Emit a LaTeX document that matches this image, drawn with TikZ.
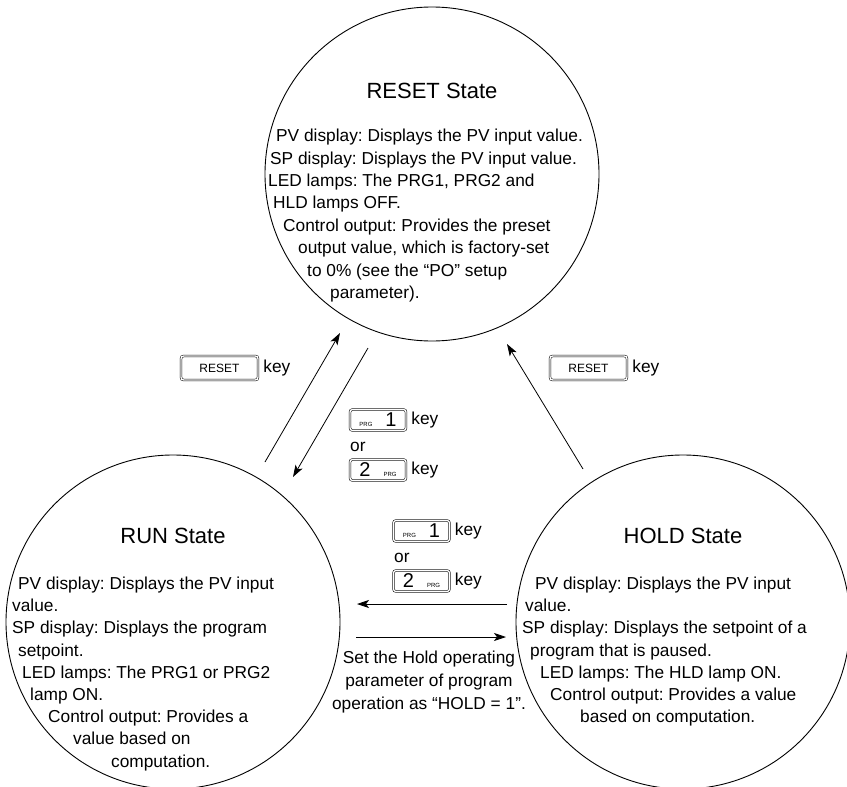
\documentclass[tikz,border=0pt]{standalone}
\usepackage{fontspec}
\setmainfont{Liberation Sans}
\usetikzlibrary{arrows.meta}
\frenchspacing
\begin{document}
\begin{tikzpicture}[x=1pt,y=-1pt,
  state/.style={draw,line width=0.9pt,circle,minimum size=334pt,inner sep=0pt},
  title/.style={font=\fontsize{22}{25}\selectfont},
  txt/.style={anchor=base west,inner sep=0pt,font=\fontsize{17.3}{20}\selectfont},
  ctxt/.style={anchor=base,inner sep=0pt,font=\fontsize{17.3}{20}\selectfont},
  keybox/.style={draw,double,double distance=1.4pt,line width=0.5pt,rounded corners=2.5pt,inner sep=0pt},
  arr/.style={-{Stealth[length=12pt,width=8pt,inset=3pt]},line width=0.8pt}]
\useasboundingbox (0,0) rectangle (847,787);
\node[state] (reset) at (432,174) {};
\node[state] (run) at (173,622) {};
\node[state] (hold) at (683,622) {};
% RESET text
\node[title,anchor=base] (rt) at (432,98) {RESET State};
\node[txt] (r1) at (276,141) {PV display: Displays the PV input value.};
\node[txt] (r2) at (270,164) {SP display: Displays the PV input value.};
\node[txt] (r3) at (268,186) {LED lamps: The PRG1, PRG2 and};
\node[txt] (r4) at (273,208) {HLD lamps OFF.};
\node[txt] (r5) at (283,231) {Control output: Provides the preset};
\node[txt] (r6) at (298,253) {output value, which is factory-set};
\node[txt] (r7) at (307,276) {to 0\% (see the “PO” setup};
\node[txt] (r8) at (330,298) {parameter).};
% RUN text
\node[title,anchor=base] (ut) at (173,543) {RUN State};
\node[txt] (u1) at (18,589) {PV display: Displays the PV input};
\node[txt] (u2) at (12,611) {value.};
\node[txt] (u3) at (12,633) {SP display: Displays the program};
\node[txt] (u4) at (18,656) {setpoint.};
\node[txt] (u5) at (22,678) {LED lamps: The PRG1 or PRG2};
\node[txt] (u6) at (30,700) {lamp ON.};
\node[txt] (u7) at (48,722) {Control output: Provides a};
\node[txt] (u8) at (73,744) {value based on};
\node[txt] (u9) at (111,767) {computation.};
% HOLD text
\node[title,anchor=base] (ht) at (683,543) {HOLD State};
\node[txt] (h1) at (535,589) {PV display: Displays the PV input};
\node[txt] (h2) at (525,611) {value.};
\node[txt] (h3) at (522,633) {SP display: Displays the setpoint of a};
\node[txt] (h4) at (530,656) {program that is paused.};
\node[txt] (h5) at (540,678) {LED lamps: The HLD lamp ON.};
\node[txt] (h6) at (550,700) {Control output: Provides a value};
\node[txt] (h7) at (580,722) {based on computation.};
% RESET keys
\node[keybox,minimum width=77pt,minimum height=24pt,font=\fontsize{12}{13}\selectfont] (k1) at (219.5,368) {RESET};
\node[txt,anchor=west] (k1t) at ([xshift=5pt]k1.east) {key};
\node[keybox,minimum width=77pt,minimum height=24pt,font=\fontsize{12}{13}\selectfont] (k2) at (588.5,368) {RESET};
\node[txt,anchor=west] (k2t) at ([xshift=5pt]k2.east) {key};
% middle upper
\node[keybox,minimum width=56pt,minimum height=21pt] (p1) at (378,420) {\fontsize{6}{7}\selectfont PRG\hspace{13pt}\fontsize{20}{21}\selectfont 1};
\node[txt,anchor=west] (p1t) at ([xshift=5pt]p1.east) {key};
\node[txt] (o1) at (350,451) {or};
\node[keybox,minimum width=56pt,minimum height=21pt] (p2) at (378,470) {\fontsize{20}{21}\selectfont 2\hspace{13pt}\fontsize{6}{7}\selectfont PRG};
\node[txt,anchor=west] (p2t) at ([xshift=5pt]p2.east) {key};
% middle lower
\node[keybox,minimum width=56pt,minimum height=21pt] (q1) at (421.5,531) {\fontsize{6}{7}\selectfont PRG\hspace{13pt}\fontsize{20}{21}\selectfont 1};
\node[txt,anchor=west] (q1t) at ([xshift=5pt]q1.east) {key};
\node[txt] (o2) at (394,562) {or};
\node[keybox,minimum width=56pt,minimum height=21pt] (q2) at (421.5,581) {\fontsize{20}{21}\selectfont 2\hspace{13pt}\fontsize{6}{7}\selectfont PRG};
\node[txt,anchor=west] (q2t) at ([xshift=5pt]q2.east) {key};
% note
\node[ctxt] (n1) at (429,663) {Set the Hold operating};
\node[ctxt] (n2) at (429,686) {parameter of program};
\node[ctxt] (n3) at (429,709) {operation as “HOLD = 1”.};
% arrows
\coordinate (a1s) at (265,462); \coordinate (a1e) at (340,333);
\coordinate (a2s) at (368,348); \coordinate (a2e) at (293,477);
\coordinate (a3s) at (583,469); \coordinate (a3e) at (507,344);
\coordinate (a4s) at (507,604); \coordinate (a4e) at (357,604);
\coordinate (a5s) at (356,637); \coordinate (a5e) at (506,637);
\draw[arr] (a1s) -- (a1e);
\draw[arr] (a2s) -- (a2e);
\draw[arr] (a3s) -- (a3e);
\draw[arr] (a4s) -- (a4e);
\draw[arr] (a5s) -- (a5e);
\end{tikzpicture}
\end{document}
